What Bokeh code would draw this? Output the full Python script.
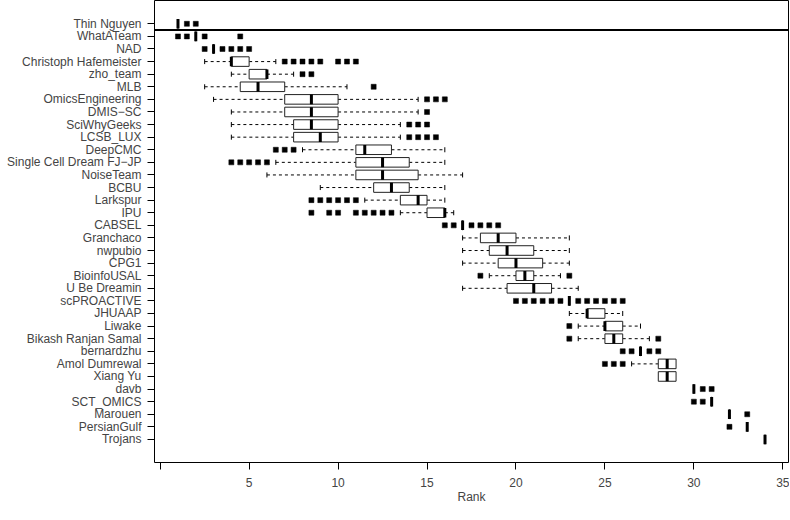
from bokeh.plotting import figure
from bokeh.models import Range1d, FixedTicker, Span, ColumnDataSource
from bokeh.embed import file_html
from bokeh.resources import INLINE

teams = ["Thin Nguyen", "WhatATeam", "NAD", "Christoph Hafemeister", "zho_team", "MLB",
         "OmicsEngineering", "DMIS\u2212SC", "SciWhyGeeks", "LCSB_LUX", "DeepCMC",
         "Single Cell Dream FJ\u2212JP", "NoiseTeam", "BCBU", "Larkspur", "IPU", "CABSEL",
         "Granchaco", "nwpubio", "CPG1", "BioinfoUSAL", "U Be Dreamin", "scPROACTIVE",
         "JHUAAP", "Liwake", "Bikash Ranjan Samal", "bernardzhu", "Amol Dumrewal",
         "Xiang Yu", "davb", "SCT_OMICS", "Marouen", "PersianGulf", "Trojans"]

whisker_lo = [1, 2, 3, 2.5, 4, 2.5, 3, 4, 4, 4, 8, 6.5, 6, 9, 11.5, 13.5, 17,
              17, 17, 17, 18.5, 17, 23, 23, 23.5, 23.5, 27, 26.5, 28, 30, 31, 32, 33, 34]
q1 = [1, 2, 3, 4, 5, 4.5, 7, 7, 7.5, 7.5, 11, 11, 11, 12, 13.5, 15, 17,
      18, 18.5, 19, 20, 19.5, 23, 24, 25, 25, 27, 28, 28, 30, 31, 32, 33, 34]
median = [1, 2, 3, 4, 6, 5.5, 8.5, 8.5, 8.5, 9, 11.5, 12.5, 12.5, 13, 14.5, 16, 17,
          19, 19.5, 20, 20.5, 21, 23, 24, 25, 25.5, 27, 28.5, 28.5, 30, 31, 32, 33, 34]
q3 = [1, 2, 3, 5, 6, 7, 10, 10, 10, 10, 13, 14, 14.5, 14, 15, 16, 17,
      20, 21, 21.5, 21, 22, 23, 25, 26, 26, 27, 29, 29, 30, 31, 32, 33, 34]
whisker_hi = [1, 2, 3, 6.5, 7.5, 10.5, 14.5, 14.5, 13.5, 13.5, 16, 16, 17, 16, 16, 16.5, 17,
              23, 23, 23, 22.5, 23.5, 23, 26, 27, 27.5, 27, 29, 29, 30, 31, 32, 33, 34]
outliers = [
    [1.5, 2], [1, 1.5, 2.5, 4.5], [2.5, 3.5, 4, 4.5, 5],
    [7, 7.5, 8, 8.5, 9, 10, 10.5, 11], [8, 8.5], [12],
    [15, 15.5, 16], [15], [14, 14.5, 15], [14, 14.5, 15, 15.5],
    [6.5, 7, 7.5], [4, 4.5, 5, 5.5, 6], [], [],
    [8.5, 9, 9.5, 10, 10.5, 11], [8.5, 9.5, 10, 11, 11.5, 12, 12.5, 13],
    [16, 16.5, 17.5, 18, 18.5, 19], [], [], [], [18, 23], [],
    [20, 20.5, 21, 21.5, 22, 22.5, 23.5, 24, 24.5, 25, 25.5, 26],
    [], [23], [23, 28], [26, 26.5, 27.5, 28], [25, 25.5, 26], [],
    [30.5, 31], [30, 30.5], [33], [32], []]
x_ticks = [0, 5, 10, 15, 20, 25, 30, 35]

rows = list(range(1, len(teams) + 1))
BOXH = 0.76
STAPLE = 0.4
FONT = "Liberation Sans"

p = figure(width=789, height=512, x_range=Range1d(-0.32, 35.32), y_range=Range1d(35.83, -0.85),
           output_backend="svg", toolbar_location=None,
           min_border_left=154, min_border_right=1, min_border_top=0, min_border_bottom=50)
p.grid.visible = False
p.outline_line_color = "black"
p.outline_line_width = 1
p.background_fill_color = "white"
p.border_fill_color = "white"

# whiskers
wl_x0, wl_x1, wl_y = [], [], []
for i, r in enumerate(rows):
    if whisker_lo[i] < q1[i]:
        wl_x0.append(whisker_lo[i]); wl_x1.append(q1[i]); wl_y.append(r)
    if whisker_hi[i] > q3[i]:
        wl_x0.append(q3[i]); wl_x1.append(whisker_hi[i]); wl_y.append(r)
p.segment(x0=wl_x0, y0=wl_y, x1=wl_x1, y1=wl_y, line_color="black", line_width=1, line_dash="3 3")

# staples
st_x, st_y = [], []
for i, r in enumerate(rows):
    if whisker_lo[i] < q1[i]:
        st_x.append(whisker_lo[i]); st_y.append(r)
    if whisker_hi[i] > q3[i]:
        st_x.append(whisker_hi[i]); st_y.append(r)
p.segment(x0=st_x, y0=[y - STAPLE / 2 for y in st_y], x1=st_x, y1=[y + STAPLE / 2 for y in st_y],
          line_color="black", line_width=1)

# boxes
box_src = ColumnDataSource(dict(y=rows, left=q1, right=q3, med=median,
                                y0=[r - BOXH / 2 for r in rows], y1=[r + BOXH / 2 for r in rows]))
p.hbar(y="y", left="left", right="right", height=BOXH, source=box_src,
       fill_color="white", line_color="#222222", line_width=1)
p.segment(x0="med", y0="y0", x1="med", y1="y1", source=box_src, line_color="black", line_width=3)

# outliers
ox, oy = [], []
for i, r in enumerate(rows):
    for v in outliers[i]:
        ox.append(v); oy.append(r)
p.scatter(ox, oy, marker="square", size=5, fill_color="black", line_color="black", line_width=0.5)

# separator line
p.add_layout(Span(location=1.5, dimension="width", line_color="black", line_width=2))

# axes
xa = p.xaxis[0]
xa.ticker = FixedTicker(ticks=x_ticks)
xa.major_label_overrides = {0: ""}
xa.minor_tick_line_color = None
xa.major_tick_in = 0
xa.major_tick_out = 7
xa.axis_line_color = None
xa.major_label_standoff = 8
xa.major_label_text_font = FONT
xa.major_label_text_font_size = "12px"
xa.axis_label = "Rank"
xa.axis_label_text_font = FONT
xa.axis_label_text_font_size = "12px"
xa.axis_label_text_font_style = "normal"
xa.axis_label_standoff = 0

ya = p.yaxis[0]
ya.ticker = FixedTicker(ticks=rows)
ya.major_label_overrides = {r: t for r, t in zip(rows, teams)}
ya.minor_tick_line_color = None
ya.major_tick_in = 0
ya.major_tick_out = 7
ya.axis_line_color = None
ya.major_label_standoff = 6
ya.major_label_text_font = FONT
ya.major_label_text_font_size = "12px"

open("out.html", "w").write(file_html(p, INLINE))
